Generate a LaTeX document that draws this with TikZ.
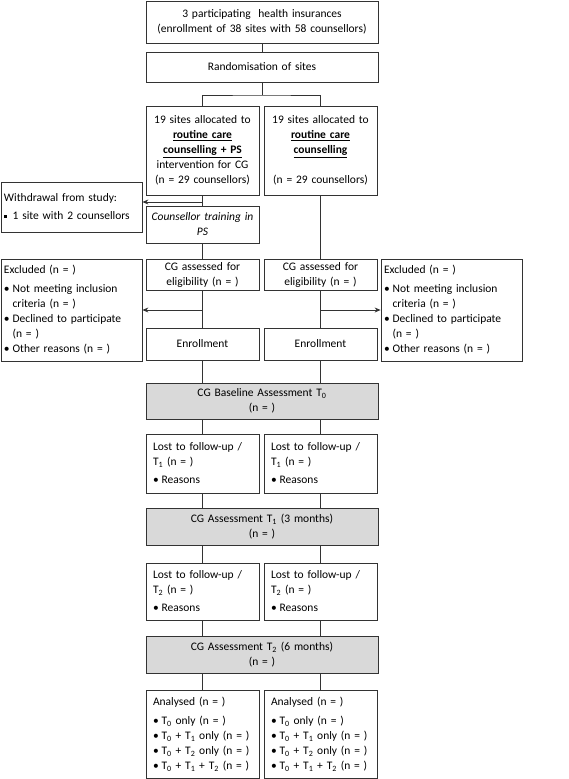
\documentclass[tikz,border=0pt]{standalone}
\usepackage{fontspec}
\setmainfont{Carlito}
\usepackage{tikz}
\usetikzlibrary{arrows.meta}

\tikzset{
  box/.style={draw=black!80, line width=0.8pt, inner ysep=0pt, inner xsep=3pt, align=center, font=\fontsize{11.5}{15}\selectfont},
  colbox/.style={box, minimum width=113pt, text width=107pt},
  listbox/.style={colbox, align=left, inner xsep=7pt, text width=99pt},
  widebox/.style={box, minimum width=232pt, text width=226pt},
  sidebox/.style={box, align=left, minimum width=141pt, text width=135pt},
  assess/.style={widebox, fill=black!15},
  link/.style={draw=black!80, line width=0.8pt},
  arr/.style={link, -{Stealth[length=6pt,width=5pt]}}
}
\newcommand{\bul}{\makebox[0.75em][l]{\textbullet}}
\newcommand{\ind}{\hspace*{0.75em}}
\newcommand{\sqbul}{\makebox[0.75em][l]{\rule[2pt]{3pt}{3pt}}}
\newcommand{\Tn}[1]{T\textsubscript{#1}}

\begin{document}
\begin{tikzpicture}[x=1pt, y=-1pt]
\useasboundingbox (0,0) rectangle (568,779);
\def\xl{202.5}
\def\xr{320.5}
\def\xm{262}
\def\xs{71.5}
\def\xe{451.5}

\node[widebox, minimum height=42pt] (insur) at (\xm,22) {3 participating~ health insurances\\(enrollment of 38 sites with 58 counsellors)};
\node[widebox, minimum height=30pt] (random) at (\xm,67) {Randomisation of sites};

\node[colbox, minimum height=89pt] (armps) at (\xl,150.5) {19 sites allocated to\\\textbf{\underline{routine care}}\\\textbf{\underline{counselling + PS}}\\intervention for CG\\(n = 29 counsellors)};
\node[colbox, minimum height=89pt] (armrc) at (\xr,150.5) {19 sites allocated to\\\textbf{\underline{routine care}}\\\textbf{\underline{counselling}}\\\mbox{}\\(n = 29 counsellors)};

\node[sidebox, minimum height=50pt] (withdraw) at (\xs,207) {Withdrawal from study:\\[3pt]\sqbul 1 site with 2 counsellors};
\node[colbox, minimum height=37pt] (training) at (\xl,224.5) {\textit{Counsellor training in}\\\textit{PS}};

\node[colbox, minimum height=31pt] (eligps) at (\xl,274.5) {CG assessed for\\eligibility (n = )};
\node[colbox, minimum height=31pt] (eligrc) at (\xr,274.5) {CG assessed for\\eligibility (n = )};
\node[sidebox, minimum height=102pt] (exclps) at (\xs,310) {Excluded (n = )\\[4pt]\bul Not meeting inclusion\\\ind criteria (n = )\\\bul Declined to participate\\\ind (n = )\\\bul Other reasons (n = )};
\node[sidebox, minimum height=102pt] (exclrc) at (\xe,310) {Excluded (n = )\\[4pt]\bul Not meeting inclusion\\\ind criteria (n = )\\\bul Declined to participate\\\ind (n = )\\\bul Other reasons (n = )};
\node[colbox, minimum height=32pt] (enrolps) at (\xl,344) {Enrollment};
\node[colbox, minimum height=32pt] (enrolrc) at (\xr,344) {Enrollment};

\node[assess, minimum height=36pt] (tzero) at (\xm,401) {CG Baseline Assessment \Tn{0}\\(n = )};
\node[listbox, minimum height=59pt] (lostaps) at (\xl,463.5) {Lost to follow-up /\\\Tn{1} (n = )\\[3pt]\bul Reasons};
\node[listbox, minimum height=59pt] (lostarc) at (\xr,463.5) {Lost to follow-up /\\\Tn{1} (n = )\\[3pt]\bul Reasons};
\node[assess, minimum height=37pt] (tone) at (\xm,526.5) {CG Assessment \Tn{1} (3 months)\\(n = )};
\node[listbox, minimum height=57pt] (lostbps) at (\xl,591.5) {Lost to follow-up /\\\Tn{2} (n = )\\[3pt]\bul Reasons};
\node[listbox, minimum height=57pt] (lostbrc) at (\xr,591.5) {Lost to follow-up /\\\Tn{2} (n = )\\[3pt]\bul Reasons};
\node[assess, minimum height=37pt] (ttwo) at (\xm,654.5) {CG Assessment \Tn{2} (6 months)\\(n = )};
\node[listbox, minimum height=88pt] (analps) at (\xl,734) {Analysed (n = )\\[4pt]\bul \Tn{0} only (n = )\\\bul \Tn{0} + \Tn{1} only (n = )\\\bul \Tn{0} + \Tn{2} only (n = )\\\bul \Tn{0} + \Tn{1} + \Tn{2} (n = )};
\node[listbox, minimum height=88pt] (analrc) at (\xr,734) {Analysed (n = )\\[4pt]\bul \Tn{0} only (n = )\\\bul \Tn{0} + \Tn{1} only (n = )\\\bul \Tn{0} + \Tn{2} only (n = )\\\bul \Tn{0} + \Tn{1} + \Tn{2} (n = )};

\coordinate (fork) at (\xm,95);
\coordinate (wd) at (\xl,202);
\draw[link] (insur) -- (random);
\draw[link] (random) -- (fork);
\draw[link] (armps.north) |- (fork) -| (armrc.north);
\draw[link] (armps) -- (training);
\draw[arr] (wd) -- (wd -| withdraw.east);
\draw[link] (training) -- (eligps);
\draw[link] (armrc) -- (eligrc);
\draw[link] (eligps) -- (enrolps);
\draw[link] (eligrc) -- (enrolrc);
\draw[arr] (eligps |- exclps) -- (exclps.east);
\draw[arr] (eligrc |- exclrc) -- (exclrc.west);
\draw[link] (enrolps) -- (enrolps |- tzero.north);
\draw[link] (enrolrc) -- (enrolrc |- tzero.north);
\draw[link] (lostaps) -- (lostaps |- tzero.south);
\draw[link] (lostarc) -- (lostarc |- tzero.south);
\draw[link] (lostaps) -- (lostaps |- tone.north);
\draw[link] (lostarc) -- (lostarc |- tone.north);
\draw[link] (lostbps) -- (lostbps |- tone.south);
\draw[link] (lostbrc) -- (lostbrc |- tone.south);
\draw[link] (lostbps) -- (lostbps |- ttwo.north);
\draw[link] (lostbrc) -- (lostbrc |- ttwo.north);
\draw[link] (analps) -- (analps |- ttwo.south);
\draw[link] (analrc) -- (analrc |- ttwo.south);
\end{tikzpicture}
\end{document}
